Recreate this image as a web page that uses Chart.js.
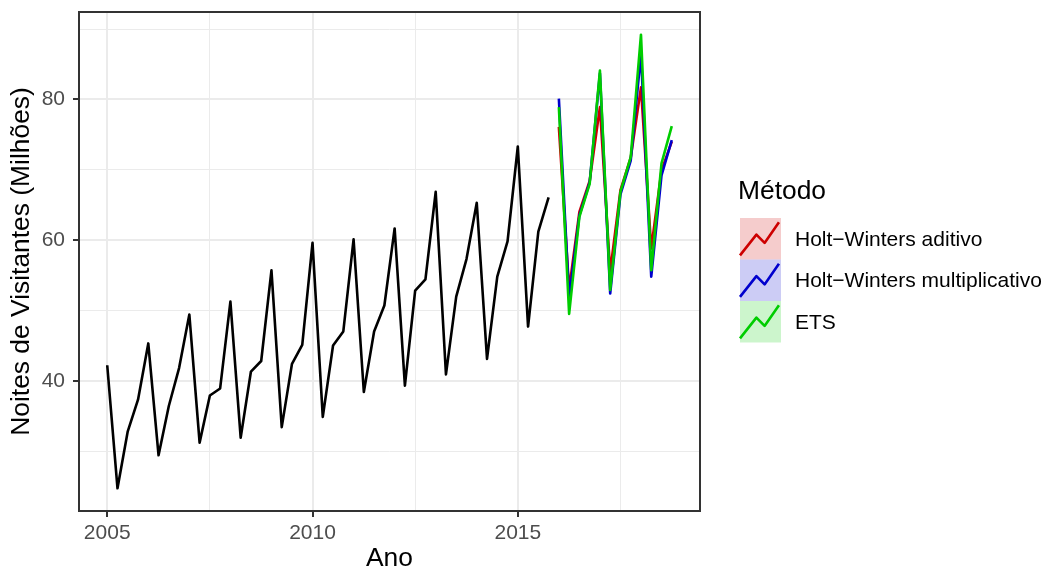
<!DOCTYPE html>
<html lang="pt">
<head>
<meta charset="utf-8">
<title>Noites de Visitantes</title>
<script src="https://cdn.jsdelivr.net/npm/chart.js@4"></script>
<style>
  html, body { margin: 0; padding: 0; background: #fff; }
  #caixa { width: 1050px; height: 572px; position: relative; }
</style>
</head>
<body>
<div id="caixa"><canvas id="grafico"></canvas></div>
<script>
// série histórica trimestral, 2005 T1 a 2015 T4
const inicioHistorico = 2005;
const historico = [
  42.2, 24.7, 32.8, 37.3,
  45.3, 29.4, 36.4, 41.8,
  49.4, 31.2, 37.9, 38.9,
  51.25, 31.9, 41.3, 42.8,
  55.7, 33.4, 42.4, 45.1,
  59.6, 34.85, 45.0, 47.0,
  60.1, 38.4, 47.0, 50.7,
  61.65, 39.3, 52.8, 54.4,
  66.85, 40.9, 51.95, 57.3,
  65.3, 43.1, 54.8, 59.8,
  73.3, 47.7, 61.2, 66.05
];

// previsões trimestrais, 2016 T1 a 2018 T4
const inicioPrevisao = 2016;
const hwAditivo = [76.1, 53.0, 64.0, 68.4, 78.9, 55.5, 67.1, 71.7, 81.7, 58.8, 69.9, 74.0];
const hwMultiplicativo = [80.1, 51.8, 63.5, 68.2, 83.7, 52.4, 66.5, 71.3, 86.5, 54.8, 69.2, 74.2];
const ets = [78.9, 49.5, 63.3, 68.0, 84.1, 52.9, 66.85, 71.8, 89.2, 55.7, 70.9, 76.2];

const metodos = ["Holt\u2212Winters aditivo", "Holt\u2212Winters multiplicativo", "ETS"];
const coresMetodos = ["#CD0000", "#0000CD", "#00CD00"];
const fundosMetodos = ["rgba(205,0,0,0.2)", "rgba(0,0,205,0.2)", "rgba(0,205,0,0.2)"];
const tituloLegenda = "Método";

const ticksX = [2005, 2010, 2015];
const ticksXMenores = [2007.5, 2012.5, 2017.5];
const ticksY = [40, 60, 80];
const ticksYMenores = [30, 50, 70, 90];

const fonte = '"Liberation Sans", Arial, Helvetica, sans-serif';

function pontos(inicio, valores) {
  return valores.map((v, i) => ({ x: inicio + i / 4, y: v }));
}

const todosX = [inicioHistorico, inicioPrevisao + (ets.length - 1) / 4];
const todosY = historico.concat(hwAditivo, hwMultiplicativo, ets);
const xMin = Math.min(...todosX), xMax = Math.max(...todosX);
const yMin = Math.min(...todosY), yMax = Math.max(...todosY);
const xPad = (xMax - xMin) * 0.05, yPad = (yMax - yMin) * 0.05;

const previsoes = [hwAditivo, hwMultiplicativo, ets];

const conjuntos = [{
  label: "",
  data: pontos(inicioHistorico, historico),
  borderColor: "#000000",
  borderWidth: 2.6,
  order: 10
}].concat(previsoes.map((serie, i) => ({
  label: metodos[i],
  metodo: true,
  fundo: fundosMetodos[i],
  data: pontos(inicioPrevisao, serie),
  borderColor: coresMetodos[i],
  borderWidth: 2.6,
  order: 5 - i
})));

conjuntos.forEach(d => {
  d.pointRadius = 0;
  d.fill = false;
  d.tension = 0;
  d.borderJoinStyle = "round";
});

// borda do painel por cima de tudo
const bordaPainel = {
  id: "bordaPainel",
  afterDraw(chart) {
    const { ctx, chartArea: a } = chart;
    ctx.save();
    ctx.strokeStyle = "#333333";
    ctx.lineWidth = 2;
    ctx.strokeRect(a.left, a.top, a.right - a.left, a.bottom - a.top);
    ctx.restore();
  }
};

// legenda no estilo ggplot
const legendaMetodo = {
  id: "legendaMetodo",
  afterDraw(chart) {
    const ctx = chart.ctx;
    ctx.save();
    ctx.textAlign = "left";
    ctx.textBaseline = "middle";
    ctx.fillStyle = "#000";
    ctx.font = "26.4px " + fonte;
    ctx.fillText(tituloLegenda, 738, 192);
    const itens = chart.data.datasets.filter(d => d.metodo);
    const w = 41, h = 41.5;
    itens.forEach((d, i) => {
      const x = 740, y = 218 + i * h;
      ctx.fillStyle = d.fundo;
      ctx.fillRect(x, y, w, h);
      ctx.strokeStyle = d.borderColor;
      ctx.lineWidth = 2.6;
      ctx.lineJoin = "round";
      ctx.beginPath();
      ctx.moveTo(x, y + 0.9 * h);
      ctx.lineTo(x + 0.4 * w, y + 0.4 * h);
      ctx.lineTo(x + 0.6 * w, y + 0.6 * h);
      ctx.lineTo(x + 0.95 * w, y + 0.1 * h);
      ctx.stroke();
      ctx.fillStyle = "#000";
      ctx.font = "21px " + fonte;
      ctx.fillText(d.label, 795, y + h / 2 + 1);
    });
    ctx.restore();
  }
};

function eixo(maiores, menores) {
  return (scale) => {
    scale.ticks = maiores.concat(menores).sort((a, b) => a - b).map(v => ({ value: v }));
  };
}

const ehMaior = (lista) => (ctx) => lista.includes(ctx.tick.value);

new Chart(document.getElementById("grafico"), {
  type: "line",
  data: { datasets: conjuntos },
  options: {
    responsive: true,
    maintainAspectRatio: false,
    animation: false,
    events: [],
    layout: { padding: { left: 0, top: 12, right: 350, bottom: 0 } },
    plugins: {
      legend: { display: false },
      tooltip: { enabled: false }
    },
    scales: {
      x: {
        type: "linear",
        min: xMin - xPad,
        max: xMax + xPad,
        afterBuildTicks: eixo(ticksX, ticksXMenores),
        afterFit: (s) => { s.height = 61; s.paddingLeft = 0; s.paddingRight = 0; },
        border: { display: false },
        grid: {
          color: "#EBEBEB",
          lineWidth: (c) => ehMaior(ticksX)(c) ? 2 : 1,
          drawTicks: true,
          tickLength: 6,
          tickWidth: 2,
          tickColor: (c) => ehMaior(ticksX)(c) ? "#333333" : "rgba(0,0,0,0)"
        },
        ticks: {
          autoSkip: false,
          maxRotation: 0,
          padding: 4,
          color: "#4D4D4D",
          font: { family: fonte, size: 21 },
          callback: (v) => ticksX.includes(v) ? String(v) : ""
        },
        title: {
          display: true,
          text: "Ano",
          color: "#000",
          padding: { top: 0, bottom: 0 },
          font: { family: fonte, size: 26.4, lineHeight: 1 }
        }
      },
      y: {
        min: yMin - yPad,
        max: yMax + yPad,
        afterBuildTicks: eixo(ticksY, ticksYMenores),
        afterFit: (s) => { s.width = 79; s.paddingTop = 0; s.paddingBottom = 0; },
        border: { display: false },
        grid: {
          color: "#EBEBEB",
          lineWidth: (c) => ehMaior(ticksY)(c) ? 2 : 1,
          drawTicks: true,
          tickLength: 6,
          tickWidth: 2,
          tickColor: (c) => ehMaior(ticksY)(c) ? "#333333" : "rgba(0,0,0,0)"
        },
        ticks: {
          autoSkip: false,
          padding: 8,
          color: "#4D4D4D",
          font: { family: fonte, size: 21 },
          callback: (v) => ticksY.includes(v) ? String(v) : ""
        },
        title: {
          display: true,
          text: "Noites de Visitantes (Milhões)",
          color: "#000",
          padding: { top: 9, bottom: 0 },
          font: { family: fonte, size: 26.4, lineHeight: 1 }
        }
      }
    }
  },
  plugins: [bordaPainel, legendaMetodo]
});
</script>
</body>
</html>
